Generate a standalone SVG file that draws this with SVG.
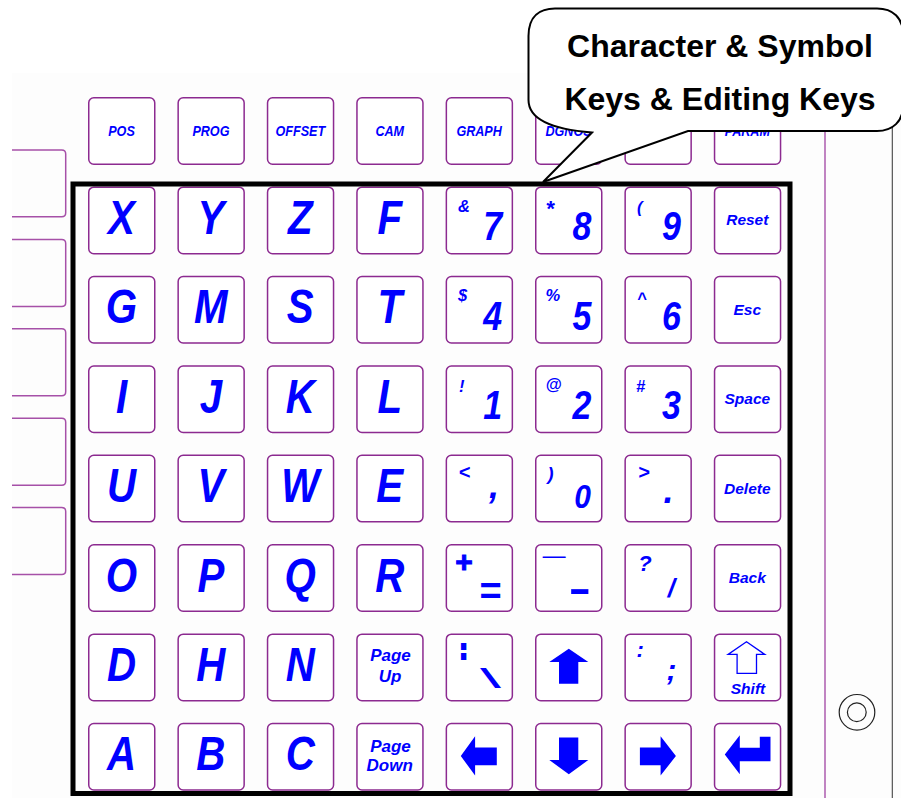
<svg xmlns="http://www.w3.org/2000/svg" xmlns:xlink="http://www.w3.org/1999/xlink" width="901" height="798" viewBox="0 0 901 798">
<style>
.p{fill:none;stroke:#a650a8;stroke-width:1.5}
.t{font-family:"Liberation Sans",Arial,sans-serif;font-weight:bold;font-style:italic;fill:#0000ff}
.m{text-anchor:middle}
.L{font-size:48px}
.D{font-size:40px}
.s{font-size:16.5px}
.w{font-size:15.5px}
.f{font-size:14px}
.g{font-size:17px}
.n{font-style:normal}
.a{fill:#0000ff;stroke:none}
.ao{fill:#fff;stroke:#0000ff;stroke-width:1.3}
.callout{fill:#fff;stroke:#000;stroke-width:2;stroke-linejoin:miter}
.ct{font-family:"Liberation Sans",Arial,sans-serif;font-weight:bold;font-size:32px;fill:#000;text-anchor:middle}
</style>
<defs>
<rect id="kb" x="0.75" y="0.75" width="66" height="66.5" rx="5" fill="#fff" stroke="#8c2a90" stroke-width="1.5"/>
</defs>
<rect x="0" y="0" width="901" height="798" fill="#fff"/>
<rect x="12" y="73" width="889" height="725" fill="#fdfdfd"/>
<g id="side-panels">
<path class="p" d="M12 150H61.7Q65.7 150 65.7 154V212.7Q65.7 216.7 61.7 216.7H12"/>
<path class="p" d="M12 239.4H61.7Q65.7 239.4 65.7 243.4V302.4Q65.7 306.4 61.7 306.4H12"/>
<path class="p" d="M12 328.8H61.7Q65.7 328.8 65.7 332.8V391.8Q65.7 395.8 61.7 395.8H12"/>
<path class="p" d="M12 418.2H61.7Q65.7 418.2 65.7 422.2V481.2Q65.7 485.2 61.7 485.2H12"/>
<path class="p" d="M12 507.6H61.7Q65.7 507.6 65.7 511.6V570.6Q65.7 574.6 61.7 574.6H12"/>
</g>
<g id="right-edge">
<line x1="825" y1="70" x2="825" y2="798" stroke="#a650a8" stroke-width="1.4"/>
<line x1="892.3" y1="70" x2="892.3" y2="798" stroke="#444" stroke-width="1.1"/>
<circle cx="857" cy="712.3" r="17.8" fill="none" stroke="#222" stroke-width="1.2"/>
<circle cx="856.8" cy="712.3" r="9.4" fill="none" stroke="#222" stroke-width="1.2"/>
</g>

<!-- Row 0: function keys -->
<g id="key-pos" transform="translate(88 97)"><use xlink:href="#kb"/><text class="t m f" transform="translate(33.5 39) scale(.9 1)">POS</text></g>
<g id="key-prog" transform="translate(177.4 97)"><use xlink:href="#kb"/><text class="t m f" transform="translate(33.5 39) scale(.9 1)">PROG</text></g>
<g id="key-offset" transform="translate(266.8 97)"><use xlink:href="#kb"/><text class="t m f" transform="translate(33.5 39) scale(.9 1)">OFFSET</text></g>
<g id="key-cam" transform="translate(356.2 97)"><use xlink:href="#kb"/><text class="t m f" transform="translate(33.5 39) scale(.9 1)">CAM</text></g>
<g id="key-graph" transform="translate(445.6 97)"><use xlink:href="#kb"/><text class="t m f" transform="translate(33.5 39) scale(.9 1)">GRAPH</text></g>
<g id="key-dgnos" transform="translate(535 97)"><use xlink:href="#kb"/><text class="t m f" transform="translate(33.5 39) scale(.9 1)">DGNOS</text></g>
<g id="key-f7" transform="translate(624.4 97)"><use xlink:href="#kb"/></g>
<g id="key-param" transform="translate(713.8 97)"><use xlink:href="#kb"/><text class="t m f" transform="translate(33.5 39) scale(.9 1)">PARAM</text></g>

<!-- Row 1 -->
<g id="key-x" transform="translate(88 186.4)"><use xlink:href="#kb"/><text class="t m L" transform="translate(33.5 47.5) scale(.84 1)">X</text></g>
<g id="key-y" transform="translate(177.4 186.4)"><use xlink:href="#kb"/><text class="t m L" transform="translate(33.5 47.5) scale(.84 1)">Y</text></g>
<g id="key-z" transform="translate(266.8 186.4)"><use xlink:href="#kb"/><text class="t m L" transform="translate(33.5 47.5) scale(.84 1)">Z</text></g>
<g id="key-f" transform="translate(356.2 186.4)"><use xlink:href="#kb"/><text class="t m L" transform="translate(33.5 47.5) scale(.84 1)">F</text></g>
<g id="key-7" transform="translate(445.6 186.4)"><use xlink:href="#kb"/><text class="t s" x="12.5" y="25.5">&amp;</text><text class="t m D" transform="translate(47 54) scale(.85 1)">7</text></g>
<g id="key-8" transform="translate(535 186.4)"><use xlink:href="#kb"/><text class="t" font-size="22" x="10.5" y="30">*</text><text class="t m D" transform="translate(47 54) scale(.85 1)">8</text></g>
<g id="key-9" transform="translate(624.4 186.4)"><use xlink:href="#kb"/><text class="t s" x="12.5" y="27">(</text><text class="t m D" transform="translate(47 54) scale(.85 1)">9</text></g>
<g id="key-reset" transform="translate(713.8 186.4)"><use xlink:href="#kb"/><text class="t m w" x="33.5" y="39">Reset</text></g>

<!-- Row 2 -->
<g id="key-g" transform="translate(88 275.8)"><use xlink:href="#kb"/><text class="t m L" transform="translate(33.5 47.5) scale(.84 1)">G</text></g>
<g id="key-m" transform="translate(177.4 275.8)"><use xlink:href="#kb"/><text class="t m L" transform="translate(33.5 47.5) scale(.84 1)">M</text></g>
<g id="key-s" transform="translate(266.8 275.8)"><use xlink:href="#kb"/><text class="t m L" transform="translate(33.5 47.5) scale(.84 1)">S</text></g>
<g id="key-t" transform="translate(356.2 275.8)"><use xlink:href="#kb"/><text class="t m L" transform="translate(33.5 47.5) scale(.84 1)">T</text></g>
<g id="key-4" transform="translate(445.6 275.8)"><use xlink:href="#kb"/><text class="t s" x="12.5" y="25">$</text><text class="t m D" transform="translate(47 54) scale(.85 1)">4</text></g>
<g id="key-5" transform="translate(535 275.8)"><use xlink:href="#kb"/><text class="t s" x="10.5" y="25">%</text><text class="t m D" transform="translate(47 54) scale(.85 1)">5</text></g>
<g id="key-6" transform="translate(624.4 275.8)"><use xlink:href="#kb"/><text class="t s" x="12.5" y="28">^</text><text class="t m D" transform="translate(47 54) scale(.85 1)">6</text></g>
<g id="key-esc" transform="translate(713.8 275.8)"><use xlink:href="#kb"/><text class="t m w" x="33.5" y="39">Esc</text></g>

<!-- Row 3 -->
<g id="key-i" transform="translate(88 365.2)"><use xlink:href="#kb"/><text class="t m L" transform="translate(33.5 47.5) scale(.84 1)">I</text></g>
<g id="key-j" transform="translate(177.4 365.2)"><use xlink:href="#kb"/><text class="t m L" transform="translate(33.5 47.5) scale(.84 1)">J</text></g>
<g id="key-k" transform="translate(266.8 365.2)"><use xlink:href="#kb"/><text class="t m L" transform="translate(33.5 47.5) scale(.84 1)">K</text></g>
<g id="key-l" transform="translate(356.2 365.2)"><use xlink:href="#kb"/><text class="t m L" transform="translate(33.5 47.5) scale(.84 1)">L</text></g>
<g id="key-1" transform="translate(445.6 365.2)"><use xlink:href="#kb"/><text class="t s" x="13.5" y="26.5">!</text><text class="t m D" transform="translate(47 54) scale(.85 1)">1</text></g>
<g id="key-2" transform="translate(535 365.2)"><use xlink:href="#kb"/><text class="t s" x="10.5" y="25">@</text><text class="t m D" transform="translate(47 54) scale(.85 1)">2</text></g>
<g id="key-3" transform="translate(624.4 365.2)"><use xlink:href="#kb"/><text class="t s" x="11.5" y="26.5">#</text><text class="t m D" transform="translate(47 54) scale(.85 1)">3</text></g>
<g id="key-space" transform="translate(713.8 365.2)"><use xlink:href="#kb"/><text class="t m w" x="33.5" y="39">Space</text></g>

<!-- Row 4 -->
<g id="key-u" transform="translate(88 454.6)"><use xlink:href="#kb"/><text class="t m L" transform="translate(33.5 47.5) scale(.84 1)">U</text></g>
<g id="key-v" transform="translate(177.4 454.6)"><use xlink:href="#kb"/><text class="t m L" transform="translate(33.5 47.5) scale(.84 1)">V</text></g>
<g id="key-w" transform="translate(266.8 454.6)"><use xlink:href="#kb"/><text class="t m L" transform="translate(33.5 47.5) scale(.84 1)">W</text></g>
<g id="key-e" transform="translate(356.2 454.6)"><use xlink:href="#kb"/><text class="t m L" transform="translate(33.5 47.5) scale(.84 1)">E</text></g>
<g id="key-comma" transform="translate(445.6 454.6)"><use xlink:href="#kb"/><text class="t" font-size="20" x="13" y="24">&lt;</text><text class="t m" font-size="36" x="48.5" y="43.5">,</text></g>
<g id="key-0" transform="translate(535 454.6)"><use xlink:href="#kb"/><text class="t" font-size="18" x="12.5" y="25">)</text><text class="t m" font-size="34" transform="translate(47.5 53.3) scale(.88 1)">0</text></g>
<g id="key-period" transform="translate(624.4 454.6)"><use xlink:href="#kb"/><text class="t" font-size="20" x="13.5" y="24">&gt;</text><text class="t m" font-size="36" x="44" y="48.3">.</text></g>
<g id="key-delete" transform="translate(713.8 454.6)"><use xlink:href="#kb"/><text class="t m w" x="33.5" y="39">Delete</text></g>

<!-- Row 5 -->
<g id="key-o" transform="translate(88 544)"><use xlink:href="#kb"/><text class="t m L" transform="translate(33.5 47.5) scale(.84 1)">O</text></g>
<g id="key-p" transform="translate(177.4 544)"><use xlink:href="#kb"/><text class="t m L" transform="translate(33.5 47.5) scale(.84 1)">P</text></g>
<g id="key-q" transform="translate(266.8 544)"><use xlink:href="#kb"/><text class="t m L" transform="translate(33.5 47.5) scale(.84 1)">Q</text></g>
<g id="key-r" transform="translate(356.2 544)"><use xlink:href="#kb"/><text class="t m L" transform="translate(33.5 47.5) scale(.84 1)">R</text></g>
<g id="key-equal" transform="translate(445.6 544)"><use xlink:href="#kb"/><text class="t m n" font-size="30" x="18.5" y="27.5" stroke="#0000ff" stroke-width="1">+</text><text class="t m n" font-size="38" x="45" y="60">=</text></g>
<g id="key-minus" transform="translate(535 544)"><use xlink:href="#kb"/><text class="t n" font-size="40" x="8" y="9">_</text><text class="t m n" font-size="40" transform="translate(44.8 58) scale(1.7 1)">-</text></g>
<g id="key-slash" transform="translate(624.4 544)"><use xlink:href="#kb"/><text class="t" font-size="22" x="13.8" y="26.5">?</text><text class="t m" font-size="26" x="47" y="52.8">/</text></g>
<g id="key-back" transform="translate(713.8 544)"><use xlink:href="#kb"/><text class="t m w" x="33.5" y="39">Back</text></g>

<!-- Row 6 -->
<g id="key-d" transform="translate(88 633.4)"><use xlink:href="#kb"/><text class="t m L" transform="translate(33.5 47.5) scale(.84 1)">D</text></g>
<g id="key-h" transform="translate(177.4 633.4)"><use xlink:href="#kb"/><text class="t m L" transform="translate(33.5 47.5) scale(.84 1)">H</text></g>
<g id="key-n" transform="translate(266.8 633.4)"><use xlink:href="#kb"/><text class="t m L" transform="translate(33.5 47.5) scale(.84 1)">N</text></g>
<g id="key-pageup" transform="translate(356.2 633.4)"><use xlink:href="#kb"/><text class="t m g" x="34.3" y="28">Page</text><text class="t m g" x="33.8" y="48.5">Up</text></g>
<g id="key-backslash" transform="translate(445.6 633.4)"><use xlink:href="#kb"/><text class="t m n" font-size="19" transform="translate(17.9 22.6) scale(2.2 1)">¦</text><text class="m" font-family="Liberation Sans, Arial, sans-serif" font-size="28" fill="#0000ff" transform="translate(44.8 54.5) scale(2.7 1)">\</text></g>
<g id="key-up" transform="translate(535 633.4)"><use xlink:href="#kb"/><polygon class="a" points="33.8,15.3 53.3,28.7 43.3,28.7 43.3,50.3 24,50.3 24,28.7 14.3,28.7"/></g>
<g id="key-semicolon" transform="translate(624.4 633.4)"><use xlink:href="#kb"/><text class="t" font-size="22" x="12" y="23.3">:</text><text class="t m" font-size="30" x="47.2" y="46.6">;</text></g>
<g id="key-shift" transform="translate(713.8 633.4)"><use xlink:href="#kb"/><polygon class="ao" points="32.7,8.3 51,21 42.7,21 42.7,40 23.3,40 23.3,21 14.3,21"/><text class="t m w" x="34.2" y="61">Shift</text></g>

<!-- Row 7 -->
<g id="key-a" transform="translate(88 722.8)"><use xlink:href="#kb"/><text class="t m L" transform="translate(33.5 47.5) scale(.84 1)">A</text></g>
<g id="key-b" transform="translate(177.4 722.8)"><use xlink:href="#kb"/><text class="t m L" transform="translate(33.5 47.5) scale(.84 1)">B</text></g>
<g id="key-c" transform="translate(266.8 722.8)"><use xlink:href="#kb"/><text class="t m L" transform="translate(33.5 47.5) scale(.84 1)">C</text></g>
<g id="key-pagedown" transform="translate(356.2 722.8)"><use xlink:href="#kb"/><text class="t m g" x="34.3" y="29.5">Page</text><text class="t m g" x="33.5" y="48.5">Down</text></g>
<g id="key-left" transform="translate(445.6 722.8)"><use xlink:href="#kb"/><polygon class="a" points="15.2,33.2 29.5,13.5 29.5,24.8 51.2,24.8 51.2,42.5 29.5,42.5 29.5,52.8"/></g>
<g id="key-down" transform="translate(535 722.8)"><use xlink:href="#kb"/><polygon class="a" points="24,14.8 43.3,14.8 43.3,37.2 53.3,37.2 33.8,51.5 14.3,37.2 24,37.2"/></g>
<g id="key-right" transform="translate(624.4 722.8)"><use xlink:href="#kb"/><polygon class="a" points="15.5,24.8 36.2,24.8 36.2,13.5 51.5,33.2 36.2,52.8 36.2,42.5 15.5,42.5"/></g>
<g id="key-enter" transform="translate(713.8 722.8)"><use xlink:href="#kb"/><polygon class="a" points="11,31.8 26,12.5 26,25 46,25 46,14 56.7,14 56.7,38.5 26,38.5 26,51.5"/></g>

<g id="frame">
<rect x="73" y="184" width="717" height="609.5" fill="none" stroke="#000" stroke-width="5"/>
</g>

<g id="callout">
<path class="callout" d="M555 8.5H877C893 8.5 903 18 903 34V106C903 121 893 131 877 131H688L543 182L592 132.5C560 130 528.5 122 528.5 100V36C528.5 16 540 8.5 555 8.5Z"/>
<text class="ct" x="720" y="57">Character &amp; Symbol</text>
<text class="ct" x="720" y="110">Keys &amp; Editing Keys</text>
</g>
</svg>
